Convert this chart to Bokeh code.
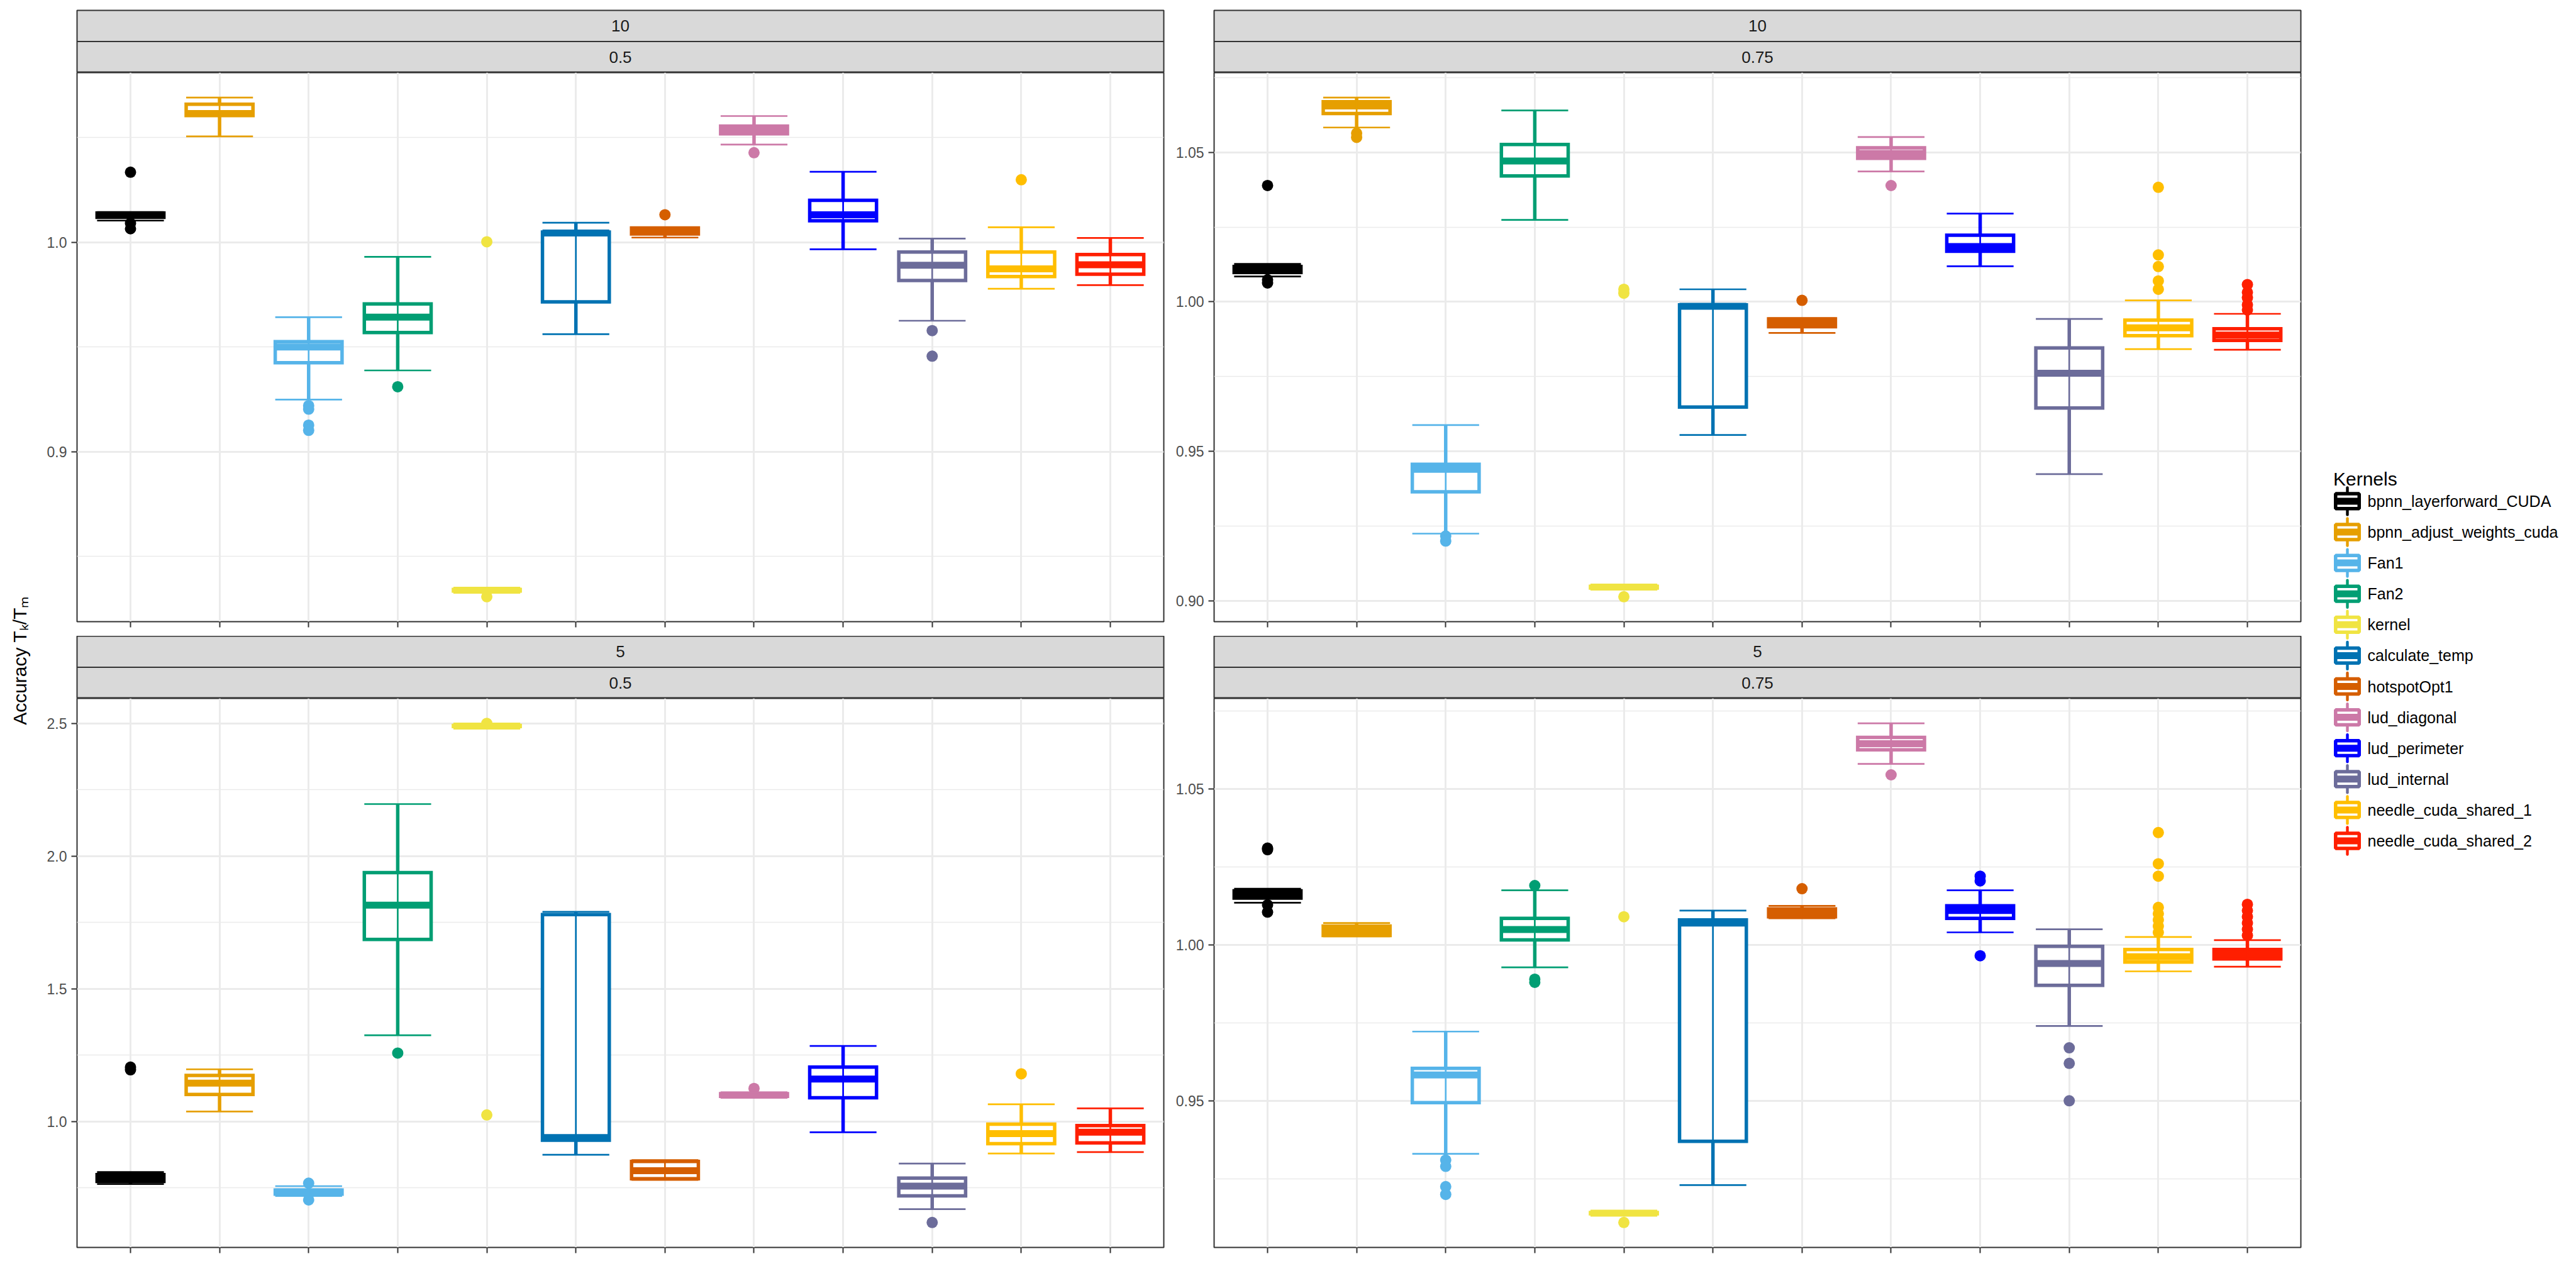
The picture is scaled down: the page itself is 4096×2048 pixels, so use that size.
import math
from bokeh.plotting import figure
from bokeh.layouts import row, column
from bokeh.models import Range1d, FactorRange, FixedTicker, PrintfTickFormatter, ColumnDataSource
from bokeh.transform import dodge
from bokeh.core.properties import value
from bokeh.embed import file_html
from bokeh.resources import INLINE

KERNELS = ["bpnn_layerforward_CUDA", "bpnn_adjust_weights_cuda", "Fan1", "Fan2", "kernel",
           "calculate_temp", "hotspotOpt1", "lud_diagonal", "lud_perimeter", "lud_internal",
           "needle_cuda_shared_1", "needle_cuda_shared_2"]
COLORS = ["#000000", "#E69F00", "#56B4E9", "#009E73", "#F0E442", "#0072B2",
          "#D55E00", "#CC79A7", "#0000FF", "#6C6C9A", "#FFBE00", "#FF1F00"]

STRIP_TOP = ["10", "10", "5", "5"]
STRIP_BOTTOM = ["0.5", "0.75", "0.5", "0.75"]
Y_TITLE = "Accuracy T\u2096/T\u2098"
LEGEND_TITLE = "Kernels"

# ---- panel 10 / 0.5
p1_lower = [1.0103, 1.0505, 0.9249, 0.9388, 0.8330, 0.9561, 1.0022, 1.0466, 0.9966, 0.9625, 0.9778, 0.9795]
p1_q1 = [1.0119, 1.0604, 0.9425, 0.9569, 0.8335, 0.9715, 1.0039, 1.0517, 1.0102, 0.9817, 0.9836, 0.9847]
p1_median = [1.0129, 1.0614, 0.9500, 0.9642, 0.8339, 1.0044, 1.0051, 1.0534, 1.0131, 0.9890, 0.9873, 0.9892]
p1_q3 = [1.0139, 1.0658, 0.9525, 0.9705, 0.8343, 1.0048, 1.0068, 1.0554, 1.0200, 0.9953, 0.9953, 0.9941]
p1_upper = [1.0144, 1.0690, 0.9642, 0.9930, 0.8348, 1.0093, 1.0070, 1.0602, 1.0336, 1.0017, 1.0071, 1.0020]
p1_out_kernel = [0, 0, 0, 2, 2, 2, 2, 3, 4, 4, 6, 7, 9, 9, 10]
p1_out_value = [1.0334, 1.0090, 1.0064, 0.9220, 0.9203, 0.9127, 0.9102, 0.9310, 1.0002, 0.8308,
                1.0131, 1.0427, 0.9578, 0.9456, 1.0298]
p1_major = [0.9, 1.0]
p1_minor = [0.85, 0.95, 1.05]

# ---- panel 10 / 0.75
p2_lower = [1.0085, 1.0583, 0.9225, 1.0274, 0.9040, 0.9555, 0.9896, 1.0436, 1.0119, 0.9424, 0.9842, 0.9840]
p2_q1 = [1.0098, 1.0630, 0.9365, 1.0421, 0.9043, 0.9648, 0.9917, 1.0480, 1.0169, 0.9645, 0.9887, 0.9871]
p2_median = [1.0107, 1.0655, 0.9440, 1.0471, 0.9046, 0.9985, 0.9929, 1.0496, 1.0185, 0.9761, 0.9913, 0.9889]
p2_q3 = [1.0118, 1.0669, 0.9457, 1.0526, 0.9049, 0.9990, 0.9943, 1.0515, 1.0223, 0.9846, 0.9939, 0.9910]
p2_upper = [1.0127, 1.0683, 0.9588, 1.0640, 0.9052, 1.0042, 0.9945, 1.0551, 1.0295, 0.9943, 1.0005, 0.9960]
p2_out_kernel = [0, 0, 0, 1, 1, 2, 2, 4, 4, 4, 6, 7, 10, 10, 10, 10, 10, 11, 11, 11, 11, 11]
p2_out_value = [1.0389, 1.0074, 1.0063, 1.0564, 1.0550, 0.9217, 0.9200, 1.0042, 1.0029, 0.9014,
                1.0005, 1.0389, 1.0383, 1.0157, 1.0118, 1.0070, 1.0042,
                1.0058, 1.0032, 1.0014, 0.9990, 0.9973]
p2_major = [0.90, 0.95, 1.00, 1.05]
p2_minor = [0.925, 0.975, 1.025, 1.075]

# ---- panel 5 / 0.5
p3_lower = [0.765, 1.038, 0.720, 1.325, 2.485, 0.875, 0.780, 1.090, 0.960, 0.670, 0.880, 0.885]
p3_q1 = [0.775, 1.102, 0.727, 1.686, 2.488, 0.930, 0.785, 1.095, 1.090, 0.720, 0.917, 0.920]
p3_median = [0.787, 1.145, 0.735, 1.815, 2.490, 0.940, 0.815, 1.100, 1.160, 0.757, 0.955, 0.960]
p3_q3 = [0.800, 1.174, 0.742, 1.938, 2.492, 1.780, 0.850, 1.105, 1.205, 0.787, 0.990, 0.985]
p3_upper = [0.810, 1.197, 0.757, 2.196, 2.495, 1.790, 0.855, 1.110, 1.285, 0.842, 1.065, 1.050]
p3_out_kernel = [0, 0, 2, 2, 3, 4, 4, 7, 9, 10]
p3_out_value = [1.195, 1.205, 0.768, 0.705, 1.258, 2.500, 1.025, 1.125, 0.620, 1.180]
p3_major = [1.0, 1.5, 2.0, 2.5]
p3_minor = [0.75, 1.25, 1.75, 2.25]

# ---- panel 5 / 0.75
p4_lower = [1.0135, 1.0027, 0.9330, 0.9928, 0.9135, 0.9230, 1.0085, 1.0580, 1.0040, 0.9740, 0.9915, 0.9930]
p4_q1 = [1.0150, 1.0030, 0.9494, 1.0016, 0.9138, 0.9370, 1.0090, 1.0625, 1.0085, 0.9870, 0.9945, 0.9955]
p4_median = [1.0162, 1.0045, 0.9583, 1.0049, 0.9140, 1.0070, 1.0105, 1.0645, 1.0110, 0.9940, 0.9962, 0.9970]
p4_q3 = [1.0173, 1.0060, 0.9604, 1.0085, 0.9142, 1.0080, 1.0115, 1.0665, 1.0125, 0.9995, 0.9985, 0.9985]
p4_upper = [1.0180, 1.0070, 0.9722, 1.0175, 0.9145, 1.0110, 1.0125, 1.0710, 1.0175, 1.0050, 1.0025, 1.0015]
p4_out_kernel = [0, 0, 0, 0, 2, 2, 2, 2, 3, 3, 3, 4, 4, 6, 7, 8, 8, 8, 9, 9, 9,
                 10, 10, 10, 10, 10, 10, 10, 10, 11, 11, 11, 11, 11, 11]
p4_out_value = [1.0310, 1.0305, 1.0128, 1.0105, 0.9310, 0.9290, 0.9225, 0.9200, 1.0190, 0.9890, 0.9880,
                0.9110, 1.0090, 1.0180, 1.0545, 1.0220, 1.0205, 0.9965, 0.9670, 0.9620, 0.9500,
                1.0360, 1.0260, 1.0220, 1.0120, 1.0100, 1.0080, 1.0060, 1.0040,
                1.0130, 1.0110, 1.0090, 1.0070, 1.0050, 1.0030]
p4_major = [0.95, 1.00, 1.05]
p4_minor = [0.925, 0.975, 1.025, 1.075]

PANELS = [
    dict(lower=p1_lower, q1=p1_q1, med=p1_median, q3=p1_q3, upper=p1_upper,
         ok=p1_out_kernel, ov=p1_out_value, major=p1_major, minor=p1_minor, fmt="%.1f"),
    dict(lower=p2_lower, q1=p2_q1, med=p2_median, q3=p2_q3, upper=p2_upper,
         ok=p2_out_kernel, ov=p2_out_value, major=p2_major, minor=p2_minor, fmt="%.2f"),
    dict(lower=p3_lower, q1=p3_q1, med=p3_median, q3=p3_q3, upper=p3_upper,
         ok=p3_out_kernel, ov=p3_out_value, major=p3_major, minor=p3_minor, fmt="%.1f"),
    dict(lower=p4_lower, q1=p4_q1, med=p4_median, q3=p4_q3, upper=p4_upper,
         ok=p4_out_kernel, ov=p4_out_value, major=p4_major, minor=p4_minor, fmt="%.2f"),
]

# ---------------- styling / layout constants (output px)
FONT = "Liberation Sans"
GRID_COL = "#EBEBEB"
BORDER_COL = "#333333"
LW_BOX = 5.5
LW_MED = 11
LW_ERR = 2.7
BOX_W = 0.75
OUT_SIZE = 18

FRAME_W = 1728
FRAME_H = 873
LEFT_MB = (61, 5)
RIGHT_MB = (75, 3)


def panel_fig(i, mb, mbb):
    d = PANELS[i]
    lo = min(min(d["lower"]), min(d["ov"]))
    hi = max(max(d["upper"]), max(d["ov"]))
    r = hi - lo
    xr = FactorRange(factors=KERNELS, range_padding=0.1, range_padding_units="absolute")
    p = figure(width=mb[0] + FRAME_W + mb[1], height=FRAME_H + mbb,
               x_range=xr, y_range=Range1d(lo - 0.05 * r, hi + 0.05 * r),
               output_backend="svg", toolbar_location=None, title=None,
               min_border_left=mb[0], min_border_right=mb[1],
               min_border_top=0, min_border_bottom=mbb)
    p.background_fill_color = "white"
    p.border_fill_color = "white"
    p.outline_line_color = BORDER_COL
    p.outline_line_width = 2

    ticker = FixedTicker(ticks=d["major"], minor_ticks=d["minor"])
    p.yaxis.ticker = ticker
    p.ygrid.ticker = ticker
    p.yaxis.formatter = PrintfTickFormatter(format=d["fmt"])
    p.yaxis.axis_line_color = None
    p.yaxis.minor_tick_line_color = None
    p.yaxis.major_tick_in = 0
    p.yaxis.major_tick_out = 9
    p.yaxis.major_tick_line_color = BORDER_COL
    p.yaxis.major_tick_line_width = 2
    p.yaxis.major_label_standoff = 7
    p.yaxis.major_label_text_font = FONT
    p.yaxis.major_label_text_font_size = "23px"
    p.yaxis.major_label_text_color = "#4D4D4D"

    p.xaxis.axis_line_color = None
    p.xaxis.major_tick_in = 0
    p.xaxis.major_tick_out = 9
    p.xaxis.major_tick_line_color = BORDER_COL
    p.xaxis.major_tick_line_width = 2
    p.xaxis.major_label_text_font_size = "0px"
    p.xaxis.major_label_standoff = 0
    p.xaxis.major_label_overrides = {k: "" for k in KERNELS}

    p.xgrid.grid_line_color = GRID_COL
    p.xgrid.grid_line_width = 2.9
    p.ygrid.grid_line_color = GRID_COL
    p.ygrid.grid_line_width = 2.9
    p.ygrid.minor_grid_line_color = GRID_COL
    p.ygrid.minor_grid_line_width = 1.5

    src = ColumnDataSource(dict(kernel=KERNELS, color=COLORS, lower=d["lower"], q1=d["q1"],
                                med=d["med"], q3=d["q3"], upper=d["upper"]))
    osrc = ColumnDataSource(dict(kernel=[KERNELS[k] for k in d["ok"]],
                                 color=[COLORS[k] for k in d["ok"]], val=d["ov"]))
    left = dodge("kernel", -BOX_W / 2, range=xr)
    right = dodge("kernel", BOX_W / 2, range=xr)

    p.scatter(x="kernel", y="val", source=osrc, size=OUT_SIZE, fill_color="color",
              line_color="color", line_width=0)
    p.segment(x0="kernel", y0="q3", x1="kernel", y1="upper", source=src,
              line_color="color", line_width=LW_BOX, line_cap="butt")
    p.segment(x0="kernel", y0="q1", x1="kernel", y1="lower", source=src,
              line_color="color", line_width=LW_BOX, line_cap="butt")
    p.vbar(x="kernel", width=BOX_W, bottom="q1", top="q3", source=src, fill_color="white",
           line_color="color", line_width=LW_BOX, line_join="miter")
    p.segment(x0=left, y0="med", x1=right, y1="med", source=src,
              line_color="color", line_width=LW_MED, line_cap="butt")
    # error bars (full whisker range + caps)
    p.segment(x0="kernel", y0="lower", x1="kernel", y1="upper", source=src,
              line_color="color", line_width=LW_ERR, line_cap="butt")
    p.segment(x0=left, y0="upper", x1=right, y1="upper", source=src,
              line_color="color", line_width=LW_ERR, line_cap="butt")
    p.segment(x0=left, y0="lower", x1=right, y1="lower", source=src,
              line_color="color", line_width=LW_ERR, line_cap="butt")
    return p


def strip_fig(i, mb, height, mbt):
    p = figure(width=mb[0] + FRAME_W + mb[1], height=height,
               x_range=Range1d(0, 1), y_range=Range1d(0, 2),
               output_backend="svg", toolbar_location=None, title=None,
               x_axis_type=None, y_axis_type=None,
               min_border_left=mb[0], min_border_right=mb[1],
               min_border_top=mbt, min_border_bottom=0)
    p.background_fill_color = "#D9D9D9"
    p.border_fill_color = "white"
    p.outline_line_color = BORDER_COL
    p.outline_line_width = 2
    p.grid.visible = False
    p.segment(x0=[0], y0=[1], x1=[1], y1=[1], line_color=BORDER_COL, line_width=2)
    p.text(x=[0.5, 0.5], y=[1.5, 0.5], text=[STRIP_TOP[i], STRIP_BOTTOM[i]],
           text_align="center", text_baseline="middle", text_font=value(FONT),
           text_font_size="26px", text_color="#1A1A1A")
    return p


TOTAL_H = 2046
title_fig = figure(width=61, height=TOTAL_H, x_range=Range1d(0, 61), y_range=Range1d(TOTAL_H, 0),
                   output_backend="svg", toolbar_location=None, title=None,
                   x_axis_type=None, y_axis_type=None,
                   min_border_left=0, min_border_right=0, min_border_top=0, min_border_bottom=0)
title_fig.outline_line_color = None
title_fig.grid.visible = False
title_fig.text(x=[31], y=[1050], text=[Y_TITLE], angle=math.pi / 2, text_align="center",
               text_baseline="middle", text_font=value(FONT), text_font_size="30px",
               text_color="#000000")

LEG_W = 4096 - 61 - (LEFT_MB[0] + FRAME_W + LEFT_MB[1]) - (RIGHT_MB[0] + FRAME_W + RIGHT_MB[1])
leg = figure(width=LEG_W, height=TOTAL_H, x_range=Range1d(0, LEG_W), y_range=Range1d(TOTAL_H, 0),
             output_backend="svg", toolbar_location=None, title=None,
             x_axis_type=None, y_axis_type=None,
             min_border_left=0, min_border_right=0, min_border_top=0, min_border_bottom=0)
leg.outline_line_color = None
leg.grid.visible = False
KEY_X = 71
KEY_Y0 = 796.4
KEY_DY = 49.1
ys = [KEY_Y0 + i * KEY_DY for i in range(len(KERNELS))]
lsrc = ColumnDataSource(dict(y=ys, y_top=[y - 21.5 for y in ys], y_bot=[y + 21.5 for y in ys],
                             x=[KEY_X] * len(ys), xl=[KEY_X - 18.75] * len(ys),
                             xr=[KEY_X + 18.75] * len(ys), tx=[103] * len(ys),
                             label=KERNELS, color=COLORS))
leg.segment(x0="x", y0="y_top", x1="x", y1="y_bot", source=lsrc, line_color="color",
            line_width=4.4, line_cap="round")
leg.rect(x="x", y="y", width=37.5, height=23.8, source=lsrc, fill_color="white",
         line_color="color", line_width=LW_BOX)
leg.segment(x0="xl", y0="y", x1="xr", y1="y", source=lsrc, line_color="color",
            line_width=LW_MED, line_cap="butt")
leg.text(x="tx", y="y", text="label", source=lsrc, text_align="left", text_baseline="middle",
         text_font=value(FONT), text_font_size="25px", text_color="#000000")
leg.text(x=[48.5], y=[761], text=[LEGEND_TITLE], text_align="left", text_baseline="alphabetic",
         text_font=value(FONT), text_font_size="30px", text_color="#000000")

tl = panel_fig(0, LEFT_MB, 23)
tr = panel_fig(1, RIGHT_MB, 23)
bl = panel_fig(2, LEFT_MB, 63)
br = panel_fig(3, RIGHT_MB, 63)
stl = strip_fig(0, LEFT_MB, 115, 16)
strr = strip_fig(1, RIGHT_MB, 115, 16)
sbl = strip_fig(2, LEFT_MB, 99, 0)
sbr = strip_fig(3, RIGHT_MB, 99, 0)

layout = row(title_fig,
             column(stl, tl, sbl, bl, spacing=0),
             column(strr, tr, sbr, br, spacing=0),
             leg, spacing=0)

open("out.html", "w").write(file_html(layout, INLINE))
